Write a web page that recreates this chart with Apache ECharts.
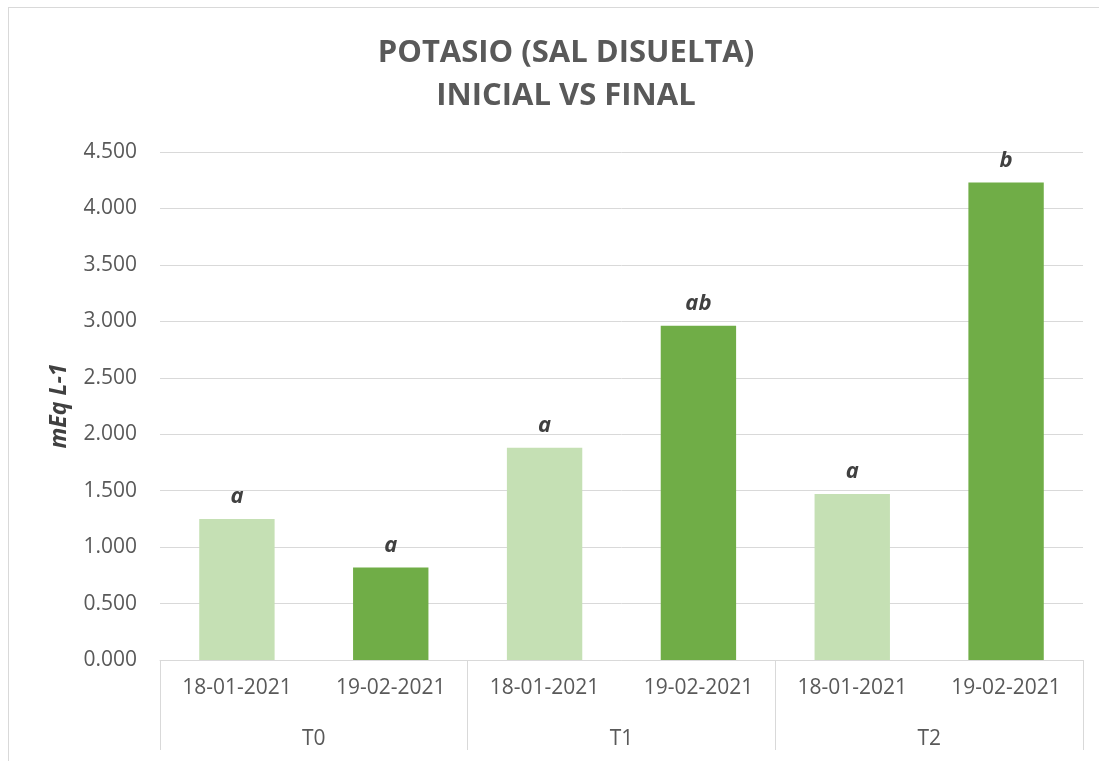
<!DOCTYPE html>
<html>
<head>
<meta charset="utf-8">
<script src="https://cdn.jsdelivr.net/npm/echarts@6/dist/echarts.min.js"></script>
<style>
  html, body { margin: 0; padding: 0; background: #fff; }
  #frame {
    position: absolute; left: 8px; top: 7px; width: 1200px; height: 800px;
    border-left: 1px solid #d9d9d9; border-top: 1px solid #d9d9d9;
  }
  #chart { position: absolute; left: 0; top: 0; width: 1099px; height: 761px; }
</style>
</head>
<body>
<div id="frame"></div>
<div id="chart"></div>
<script>
const dates = ['18-01-2021', '19-02-2021', '18-01-2021', '19-02-2021', '18-01-2021', '19-02-2021'];
const groups = ['T0', 'T1', 'T2'];
const values = [1.25, 0.82, 1.88, 2.96, 1.47, 4.23];
const letters = ['a', 'a', 'a', 'ab', 'a', 'b'];
const colors = ['#C5E0B4', '#70AD47', '#C5E0B4', '#70AD47', '#C5E0B4', '#70AD47'];

const chart = echarts.init(document.getElementById('chart'));
const font = '"Open Sans", "Liberation Sans", sans-serif';

const option = {
  animation: false,
  textStyle: { fontFamily: font },
  title: {
    text: 'POTASIO (SAL DISUELTA)\nINICIAL VS FINAL',
    left: 561,
    top: 27,
    textAlign: 'center',
    textStyle: { fontFamily: font, fontSize: 31, fontWeight: 'bold', color: '#595959', lineHeight: 43 }
  },
  grid: { left: 160, right: 16, top: 152, bottom: 101 },
  xAxis: [
    {
      type: 'category',
      data: dates,
      axisLine: { lineStyle: { color: '#d9d9d9' } },
      axisTick: { show: false },
      axisLabel: { color: '#595959', fontSize: 21, margin: 18, interval: 0 }
    },
    {
      type: 'category',
      data: groups,
      position: 'bottom',
      axisLine: { show: false },
      axisTick: { show: true, length: 90, lineStyle: { color: '#d9d9d9' } },
      axisLabel: { color: '#595959', fontSize: 21, margin: 69 }
    }
  ],
  yAxis: {
    type: 'value',
    min: 0,
    max: 4.5,
    interval: 0.5,
    name: 'mEq L-1',
    nameLocation: 'middle',
    nameGap: 89,
    nameTextStyle: { fontFamily: font, fontSize: 23, fontWeight: 'bold', fontStyle: 'italic', color: '#404040' },
    axisLine: { show: false },
    axisTick: { show: false },
    axisLabel: { color: '#595959', fontSize: 21, margin: 23, formatter: v => v.toFixed(3) },
    splitLine: { lineStyle: { color: '#d9d9d9', width: 1 } }
  },
  series: [
    {
      type: 'bar',
      xAxisIndex: 0,
      barWidth: '49%',
      data: values.map((v, i) => ({ value: v, itemStyle: { color: colors[i] } })),
      label: {
        show: true,
        position: 'top',
        distance: 11,
        formatter: p => letters[p.dataIndex],
        fontFamily: font,
        fontSize: 22,
        fontWeight: 'bold',
        fontStyle: 'italic',
        color: '#404040'
      }
    }
  ]
};
chart.setOption(option);
</script>
</body>
</html>
